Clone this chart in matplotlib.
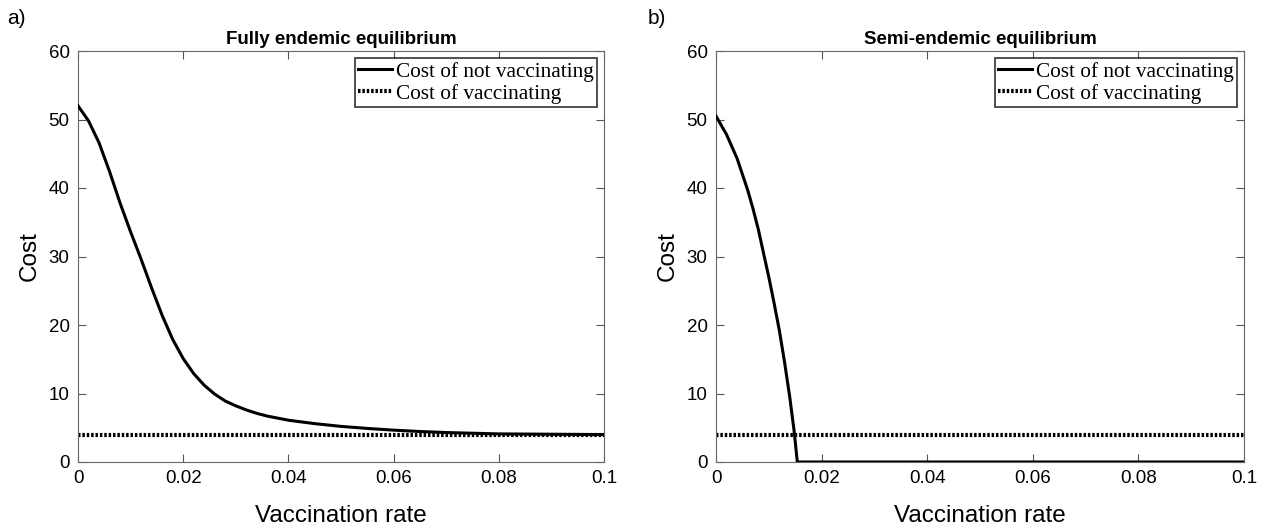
import matplotlib.pyplot as plt

# panel a) fully endemic
rate_a = [0, 0.002, 0.004, 0.006, 0.008, 0.010, 0.012, 0.014, 0.016, 0.018, 0.020,
          0.022, 0.024, 0.026, 0.028, 0.030, 0.032, 0.034, 0.036, 0.038, 0.040,
          0.045, 0.050, 0.055, 0.060, 0.065, 0.070, 0.075, 0.080, 0.090, 0.100]
not_vacc_a = [52, 49.8, 46.6, 42.4, 37.8, 33.6, 29.6, 25.4, 21.4, 17.9, 15.1,
              12.9, 11.2, 9.9, 8.9, 8.2, 7.6, 7.1, 6.7, 6.4, 6.1,
              5.6, 5.2, 4.9, 4.65, 4.45, 4.3, 4.2, 4.1, 4.05, 4.0]

# panel b) semi-endemic
rate_b = [0, 0.002, 0.004, 0.006, 0.007, 0.008, 0.009, 0.010, 0.011, 0.012,
          0.013, 0.014, 0.0148, 0.0154, 0.02, 0.04, 0.06, 0.08, 0.1]
not_vacc_b = [50.5, 47.8, 44.3, 39.7, 37, 34, 30.5, 27, 23.2, 19.2,
              14.5, 9.3, 4.5, 0, 0, 0, 0, 0, 0]

vacc_cost = 4.0
x_range = [0, 0.1]

titles = ["Fully endemic equilibrium", "Semi-endemic equilibrium"]
panel_tags = ["a)", "b)"]
xticks = [0, 0.02, 0.04, 0.06, 0.08, 0.1]
xticklabels = ["0", "0.02", "0.04", "0.06", "0.08", "0.1"]
yticks = [0, 10, 20, 30, 40, 50, 60]

plt.rcParams['font.family'] = ['Liberation Sans', 'DejaVu Sans']

fig = plt.figure(figsize=(12.63, 5.30), dpi=100)
ax1 = fig.add_axes([78 / 1263, 1 - 462 / 530, 526 / 1263, 411 / 530])
ax2 = fig.add_axes([716 / 1263, 1 - 462 / 530, 528 / 1263, 411 / 530])

data = [(rate_a, not_vacc_a), (rate_b, not_vacc_b)]
for ax, (xs, ys), title, tag in zip([ax1, ax2], data, titles, panel_tags):
    ax.plot(xs, ys, color="black", lw=2.2, label="Cost of not vaccinating", zorder=3)
    ax.plot(x_range, [vacc_cost, vacc_cost], color="black", lw=3, ls=(0, (0.6, 0.45)),
            label="Cost of vaccinating", zorder=2)
    ax.set_xlim(0, 0.1)
    ax.set_ylim(0, 60)
    ax.set_xticks(xticks)
    ax.set_xticklabels(xticklabels)
    ax.set_yticks(yticks)
    ax.tick_params(direction="in", top=True, right=True, length=6, labelsize=13.5, pad=6,
                   color="#555555")
    for s in ax.spines.values():
        s.set_color("#666666")
    ax.set_title(title, fontsize=13.5, fontweight="bold", pad=5)
    ax.set_xlabel("Vaccination rate", fontsize=17.5, labelpad=13)
    ax.set_ylabel("Cost", fontsize=17.5, labelpad=6)
    leg = ax.legend(loc="upper right", prop={"family": "Liberation Serif", "size": 15.3},
                    frameon=True, fancybox=False, borderaxespad=0.35, handlelength=1.6,
                    handletextpad=0.15, borderpad=0.15, labelspacing=0.1)
    leg.get_frame().set_edgecolor("black")
    leg.get_frame().set_linewidth(1.2)

fig.text(0.006, 0.955, panel_tags[0], fontsize=15)
fig.text(0.513, 0.955, panel_tags[1], fontsize=15)

fig.savefig("out.png", dpi=100)
